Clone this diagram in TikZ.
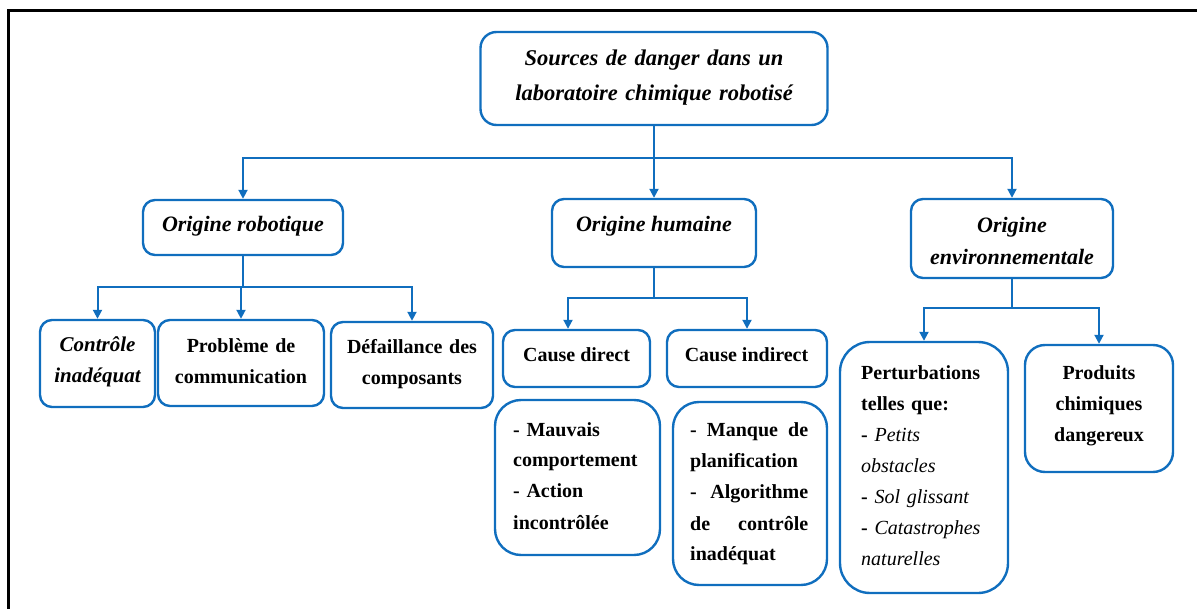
\documentclass[tikz,border=0pt]{standalone}
\usepackage{fontspec}
\setmainfont{Liberation Serif}
\usetikzlibrary{arrows.meta}
\definecolor{boxblue}{RGB}{16,110,190}

\begin{document}
\begin{tikzpicture}[x=1pt,y=-1pt,
  box/.style={draw=boxblue, line width=2.4pt, rounded corners=#1, inner sep=0pt},
  box/.default=12pt,
  arr/.style={draw=boxblue, line width=2pt, -{Triangle[length=9pt,width=9pt]}},
  hdr/.style={font=\fontsize{22}{32}\selectfont\bfseries\itshape, inner sep=0pt, anchor=base},
  txt/.style={font=\fontsize{20}{31}\selectfont\bfseries, inner sep=0pt, anchor=base},
  lft/.style={txt, anchor=base west, align=left}
]
\useasboundingbox (0,0) rectangle (1197,609);

% outer frame (left and top edges)
\draw[line width=3pt] (8,609) -- (8,10.5) -- (1197,10.5);

% ---- boxes ----
\node[box=16pt, minimum width=347pt, minimum height=93pt] (top)  at (654,78.5) {};
\node[box, minimum width=200pt, minimum height=55pt]  (rob)  at (243,227.5) {};
\node[box, minimum width=204pt, minimum height=68pt]  (hum)  at (654,233) {};
\node[box, minimum width=202pt, minimum height=79pt]  (env)  at (1012,238.5) {};
\node[box, minimum width=115pt, minimum height=87pt]  (ctrl) at (97.5,363.5) {};
\node[box, minimum width=166pt, minimum height=86pt]  (prob) at (241,363) {};
\node[box, minimum width=162pt, minimum height=86pt]  (def)  at (412,365) {};
\node[box, minimum width=147pt, minimum height=57pt]  (cd)   at (576.5,358.5) {};
\node[box, minimum width=160pt, minimum height=57pt]  (ci)   at (747,358.5) {};
\node[box=26pt, minimum width=165pt, minimum height=155pt] (mauv) at (577.5,477.5) {};
\node[box=26pt, minimum width=154pt, minimum height=183pt] (manq) at (750,493.5) {};
\node[box=30pt, minimum width=168pt, minimum height=251pt] (pert) at (924,467.5) {};
\node[box=20pt, minimum width=148pt, minimum height=127pt] (prod) at (1099,408.5) {};

% ---- texts ----
\node[hdr, font=\fontsize{22.5}{35}\selectfont\bfseries\itshape, text width=345pt, align=center] (tTop) at (654,66)
  {Sources de danger dans un\\laboratoire chimique robotisé};
\node[hdr] (tRob) at (243,232) {Origine robotique};
\node[hdr] (tHum) at (654,232) {Origine humaine};
\node[hdr, text width=200pt, align=center] (tEnv) at (1012,233) {Origine\\environnementale};

\node[hdr, font=\fontsize{21}{31}\selectfont\bfseries\itshape, text width=113pt, align=center] (tCtrl) at (97.5,352)
  {Contrôle\\inadéquat};
\node[txt, text width=164pt, align=center] (tProb) at (241,353) {Problème de\\communication};
\node[txt, text width=160pt, align=center] (tDef)  at (412,354) {Défaillance des\\composants};
\node[txt] (tCd) at (576.5,362) {Cause direct};
\node[txt] (tCi) at (746.5,362) {Cause indirect};

\node[lft, text width=140pt] (tMauv) at (513,436)
  {- Mauvais\\comportement\\- Action\\incontrôlée};
% justified paragraph: full lines spread to the column width
\node[lft, text width=118pt] (tManq) at (690,437)
  {\makebox[118pt][l]{-\hfill Manque\hfill de}\\planification\\\makebox[118pt][l]{-\hfill Algorithme}\\\makebox[118pt][l]{de\hfill contrôle}\\inadéquat};
\node[lft, font=\fontsize{20}{31}\selectfont, text width=145pt] (tPert) at (861,380)
  {\textbf{Perturbations}\\\textbf{telles que:}\\\textbf{-} \textit{Petits}\\\textit{obstacles}\\\textbf{-} \textit{Sol glissant}\\\textbf{-} \textit{Catastrophes}\\\textit{naturelles}};
\node[txt, text width=146pt, align=center] (tProd) at (1099,380) {Produits\\chimiques\\dangereux};

% ---- connectors ----
\draw[arr] (top.south) -- ++(0,32) coordinate (j1) -| (rob.north);
\draw[arr] (j1) -| (env.north);
\draw[arr] (top.south) -- (hum.north);

\draw[arr] (rob.south) -- ++(0,31) coordinate (j2) -| (ctrl.north);
\draw[arr] (j2) -| (prob.north);
\draw[arr] (j2) -| (def.north);

\draw[arr] (hum.south) -- ++(0,30) coordinate (j3) -| ([xshift=-8.5pt]cd.north);
\draw[arr] (j3) -| (ci.north);

\draw[arr] (env.south) -- ++(0,29) coordinate (j4) -| (pert.north);
\draw[arr] (j4) -| (prod.north);
\end{tikzpicture}
\end{document}
